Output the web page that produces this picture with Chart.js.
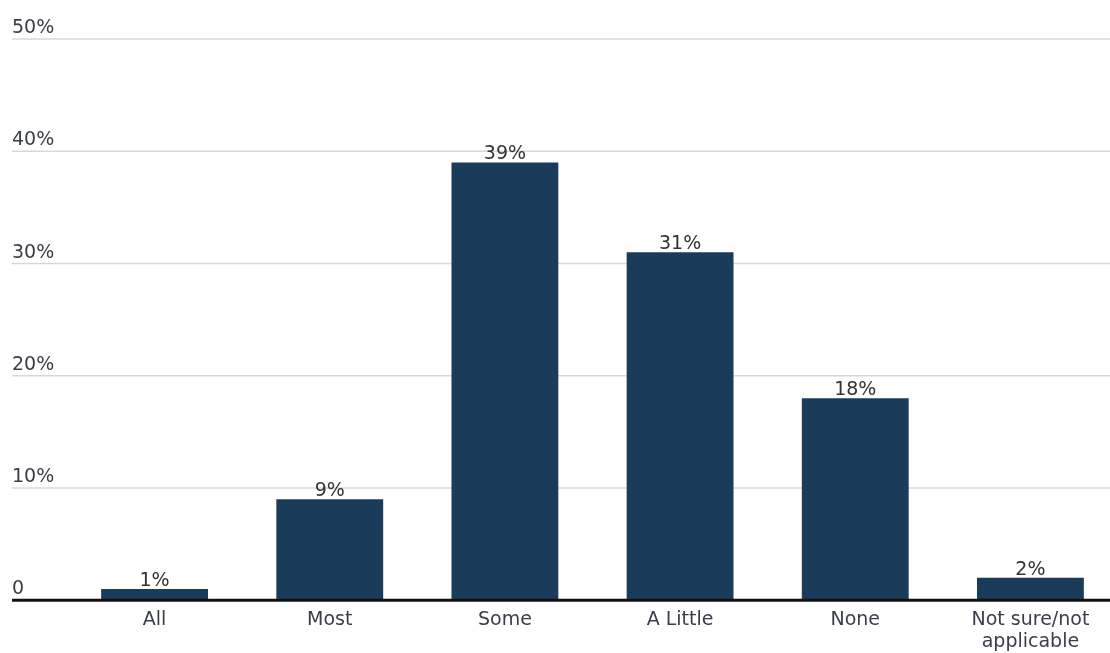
<!DOCTYPE html>
<html>
<head>
<meta charset="utf-8">
<script src="https://cdn.jsdelivr.net/npm/chart.js@4/dist/chart.umd.min.js"></script>
<style>
    html, body { margin: 0; padding: 0; background: #fff; overflow: hidden; }
    #wrap { position: relative; width: 1120px; height: 662px; }
</style>
</head>
<body>
<div id="wrap"><canvas id="shareChart"></canvas></div>
<script>
const categories = ["All", "Most", "Some", "A Little", "None", ["Not sure/not", "applicable"]];
const shares = [1, 9, 39, 31, 18, 2];
const yTicks = [0, 10, 20, 30, 40, 50];
const yTickLabels = ["0", "10%", "20%", "30%", "40%", "50%"];

const FONT = "'DejaVu Sans', sans-serif";
const TEXT = "#3a3d4a";

// grid lines and y labels sit above each line, starting at the page edge
const leftGrid = {
    id: "leftGrid",
    beforeDatasetsDraw(chart) {
        const { ctx, scales } = chart;
        const y = scales.y;
        ctx.save();
        ctx.strokeStyle = "#d8d8d8";
        ctx.lineWidth = 1.5;
        ctx.font = "19px " + FONT;
        ctx.fillStyle = TEXT;
        ctx.textAlign = "left";
        ctx.textBaseline = "alphabetic";
        yTicks.forEach((v, i) => {
            const py = y.getPixelForValue(v);
            if (v !== 0) {
                ctx.beginPath();
                ctx.moveTo(12, py);
                ctx.lineTo(chart.width, py);
                ctx.stroke();
            }
            ctx.fillText(yTickLabels[i], 12, py - 6);
        });
        ctx.restore();
    },
    afterDatasetsDraw(chart) {
        const { ctx, scales } = chart;
        const py = scales.y.getPixelForValue(0);
        ctx.save();
        ctx.strokeStyle = "#111";
        ctx.lineWidth = 3;
        ctx.beginPath();
        ctx.moveTo(12, py);
        ctx.lineTo(chart.width, py);
        ctx.stroke();

        // value labels above the bars
        const meta = chart.getDatasetMeta(0);
        ctx.font = "19px " + FONT;
        ctx.fillStyle = "#333";
        ctx.textAlign = "center";
        ctx.textBaseline = "alphabetic";
        meta.data.forEach((bar, i) => {
            ctx.fillText(shares[i] + "%", bar.x, bar.y - 3);
        });
        ctx.restore();
    }
};

new Chart(document.getElementById("shareChart"), {
    type: "bar",
    data: {
        labels: categories,
        datasets: [{
            data: shares,
            backgroundColor: "#1a3c5a",
            categoryPercentage: 0.61,
            barPercentage: 1.0
        }]
    },
    options: {
        responsive: true,
        maintainAspectRatio: false,
        animation: false,
        layout: { padding: { left: 67, right: 2, top: 39, bottom: 0 } },
        plugins: {
            legend: { display: false },
            tooltip: { enabled: false }
        },
        scales: {
            x: {
                grid: { display: false, drawTicks: false },
                border: { display: false },
                ticks: {
                    color: TEXT,
                    font: { family: FONT, size: 19, lineHeight: 1.15 },
                    padding: 9,
                    maxRotation: 0,
                    autoSkip: false
                }
            },
            y: {
                display: false,
                min: 0,
                max: 50
            }
        }
    },
    plugins: [leftGrid]
});
</script>
</body>
</html>
